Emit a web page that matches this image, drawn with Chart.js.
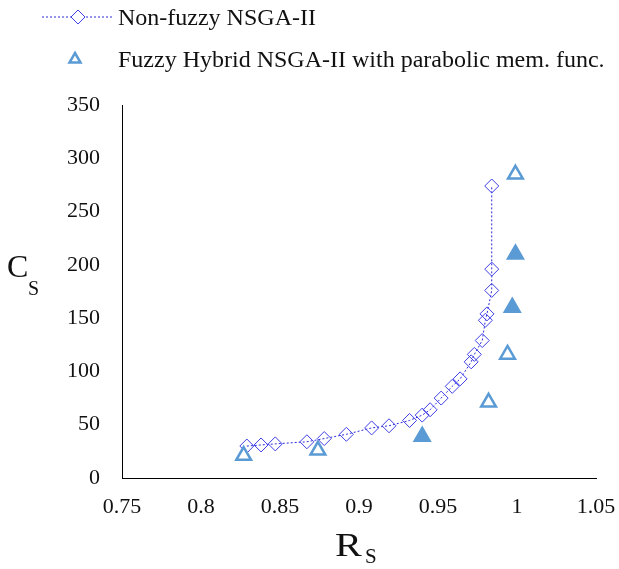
<!DOCTYPE html>
<html>
<head>
<meta charset="utf-8">
<script src="https://cdn.jsdelivr.net/npm/chart.js@4"></script>
<style>
  html, body { margin: 0; padding: 0; background: #fff; }
  #wrap { position: relative; width: 619px; height: 569px; font-family: "Liberation Serif", "Times New Roman", serif; color: #111; }
  #chart { position: absolute; left: 0; top: 0; }
  .txt { position: absolute; white-space: nowrap; }
  .leg { font-size: 24px; line-height: 24px; left: 118px; }
  .big { font-size: 32px; line-height: 32px; }
  .sub { font-size: 20px; line-height: 20px; }
</style>
</head>
<body>
<div id="wrap">
  <canvas id="chart" width="619" height="569"></canvas>

  <!-- legend -->
  <svg class="txt" style="left:0;top:0" width="120" height="90">
    <line x1="42" y1="17" x2="113" y2="17" stroke="#2b2bd8" stroke-width="1" stroke-dasharray="2,2"/>
    <polygon points="71,17 78,10 85,17 78,24" fill="#fff" stroke="#3f3fe6" stroke-width="1"/>
    <polygon points="75,53 80.5,62.5 69.5,62.5" fill="none" stroke="#5B9BD5" stroke-width="2.5"/>
  </svg>
  <div class="txt leg" style="top:5px">Non-fuzzy NSGA-II</div>
  <div class="txt leg" style="top:47px">Fuzzy Hybrid NSGA-II with parabolic mem. func.</div>

  <!-- axis titles -->
  <div class="txt big" style="left:7px;top:250px">C</div>
  <div class="txt sub" style="left:28px;top:278px">S</div>
  <div class="txt big" style="left:335px;top:529px;font-size:33px;line-height:33px;transform:scaleX(1.22);transform-origin:0 0">R</div>
  <div class="txt sub" style="left:365px;top:546px;font-size:21px;line-height:21px">S</div>
</div>

<script>
// Non-fuzzy NSGA-II front (Rs, Cs)
const nonFuzzyRs = [0.829, 0.838, 0.847, 0.867, 0.878, 0.892, 0.908, 0.919, 0.932, 0.940, 0.945,
                    0.952, 0.959, 0.964, 0.971, 0.973, 0.978, 0.980, 0.981, 0.984, 0.984, 0.984];
const nonFuzzyCs = [30, 31, 32, 34, 37, 41, 47, 49, 54, 59, 64,
                    75, 86, 93, 109, 116, 129, 148, 154, 176, 196, 274];

// Fuzzy hybrid NSGA-II (hollow markers)
const fuzzyRs = [0.827, 0.874, 0.982, 0.994, 0.999];
const fuzzyCs = [21, 26, 71, 116, 285];

// Fuzzy hybrid NSGA-II (filled markers)
const fuzzyFilledRs = [0.940, 0.997, 0.999];
const fuzzyFilledCs = [39, 160, 210];

const xTicks = [0.75, 0.8, 0.85, 0.9, 0.95, 1, 1.05];
const yTicks = [0, 50, 100, 150, 200, 250, 300, 350];

const toPoints = (xs, ys) => xs.map((x, i) => ({ x: x, y: ys[i] }));

const tickFont = { family: '"Liberation Serif", "Times New Roman", serif', size: 22 };

new Chart(document.getElementById('chart'), {
  type: 'scatter',
  data: {
    datasets: [
      {
        label: 'Fuzzy Hybrid NSGA-II with parabolic mem. func.',
        data: toPoints(fuzzyRs, fuzzyCs),
        pointStyle: 'triangle',
        pointRadius: 8.5,
        pointBorderWidth: 2.5,
        pointBorderColor: '#5B9BD5',
        pointBackgroundColor: '#ffffff',
        showLine: false
      },
      {
        label: 'filled',
        data: toPoints(fuzzyFilledRs, fuzzyFilledCs),
        pointStyle: 'triangle',
        pointRadius: 8.5,
        pointBorderWidth: 2.5,
        pointBorderColor: '#5B9BD5',
        pointBackgroundColor: '#5B9BD5',
        showLine: false
      },
      {
        label: 'Non-fuzzy NSGA-II',
        data: toPoints(nonFuzzyRs, nonFuzzyCs),
        showLine: true,
        borderColor: '#2b2bd8',
        borderWidth: 1,
        borderDash: [2, 2],
        pointStyle: 'rectRot',
        pointRadius: 7,
        pointBorderWidth: 1,
        pointBorderColor: '#3f3fe6',
        pointBackgroundColor: 'rgba(255,255,255,0)'
      }
    ]
  },
  options: {
    responsive: false,
    animation: false,
    layout: { padding: { top: 105, right: 23, left: 0, bottom: 0 } },
    plugins: { legend: { display: false }, tooltip: { enabled: false } },
    scales: {
      x: {
        type: 'linear',
        min: 0.75,
        max: 1.05,
        afterBuildTicks: s => { s.ticks = xTicks.map(v => ({ value: v })); },
        afterFit: s => { s.height = 91; s.paddingLeft = 0; s.paddingRight = 0; },
        grid: { display: false, drawTicks: false },
        border: { display: true, color: '#000', width: 1 },
        ticks: {
          padding: 16,
          color: '#111',
          font: tickFont,
          maxRotation: 0,
          callback: v => String(parseFloat(Number(v).toFixed(2)))
        }
      },
      y: {
        type: 'linear',
        min: 0,
        max: 350,
        afterBuildTicks: s => { s.ticks = yTicks.map(v => ({ value: v })); },
        afterFit: s => { s.width = 122; s.paddingTop = 0; s.paddingBottom = 0; },
        grid: { display: false, drawTicks: false },
        border: { display: true, color: '#000', width: 1 },
        ticks: {
          padding: 22,
          color: '#111',
          font: tickFont,
          callback: v => String(v)
        }
      }
    }
  }
});
</script>
</body>
</html>
